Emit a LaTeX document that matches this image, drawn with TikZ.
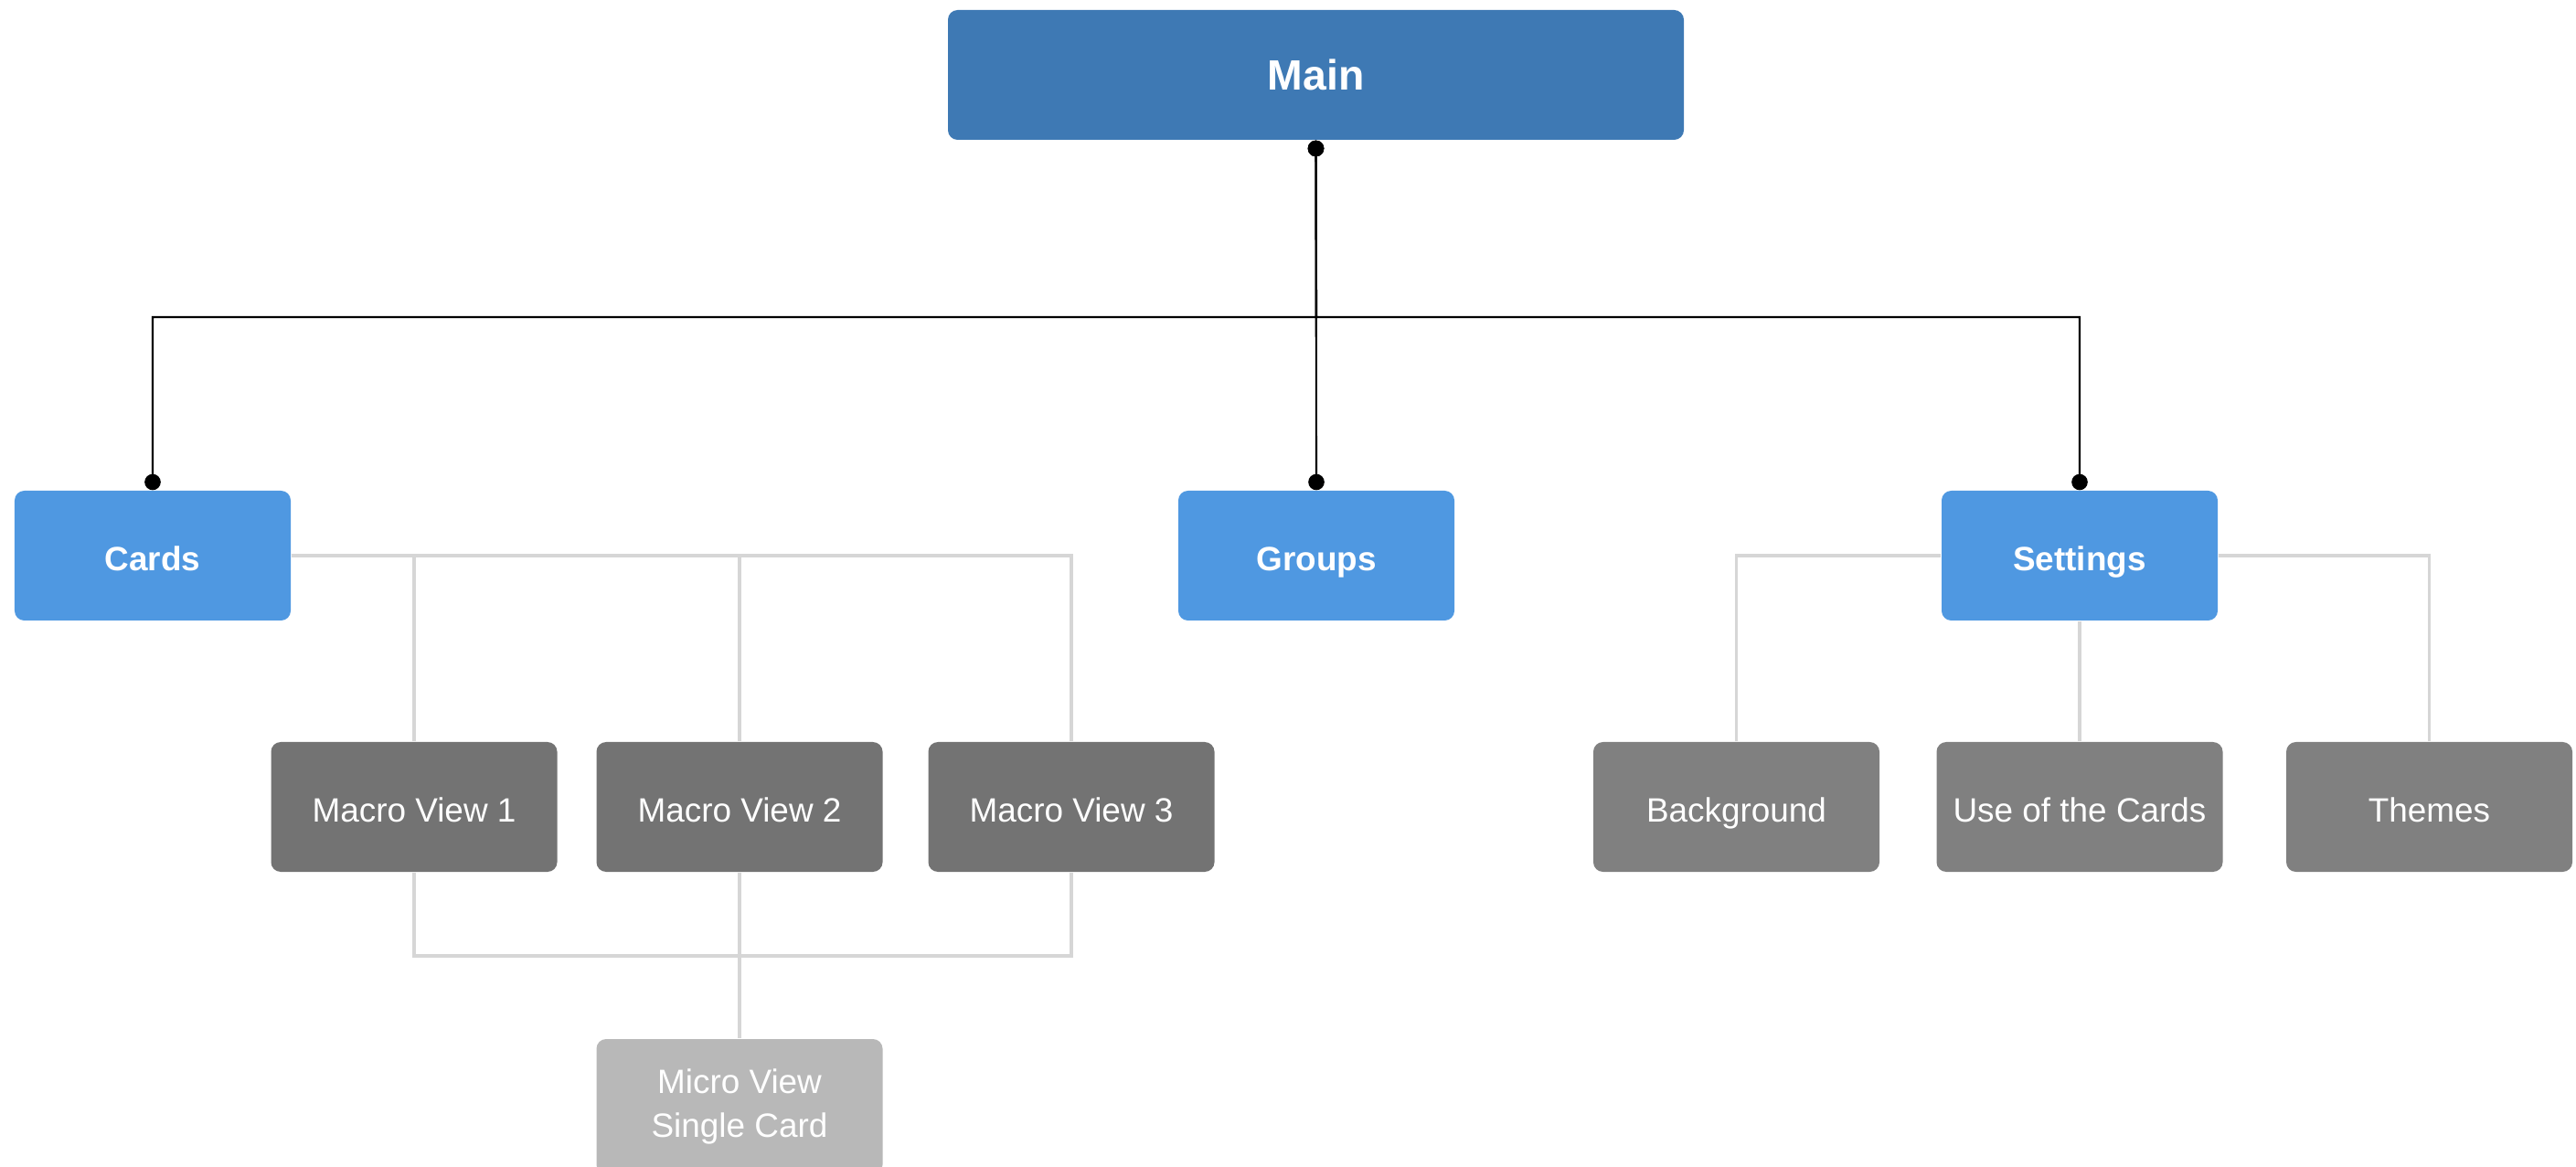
\documentclass[tikz,border=0pt]{standalone}
\usepackage{fontspec}
\setmainfont{Liberation Sans}
\usepackage{xcolor}
\usetikzlibrary{arrows.meta, positioning}
\tikzset{
    mybox/.style={rounded corners=3pt, text=white, align=center, inner sep=0pt, minimum height=1.42cm, font=\fontsize{10.5}{13.5}\selectfont},
    oneline/.style={text height=0.95em, text depth=0pt},
    mainbox/.style={mybox, oneline, fill=MainBlue, minimum width=8.05cm, font=\fontsize{13.2}{16}\selectfont\bfseries},
    topbox/.style={mybox, oneline, fill=Blue, minimum width=3.02cm, font=\fontsize{10.5}{13.5}\selectfont\bfseries},
    subbox/.style={mybox, oneline, fill=#1, minimum width=3.13cm},
    microbox/.style={mybox, fill=LightGray, minimum width=3.13cm, minimum height=1.48cm}
}
\definecolor{MainBlue}{HTML}{3E79B4}
\definecolor{Blue}{HTML}{4F98E1}
\definecolor{DarkGray}{HTML}{737373}
\definecolor{MidGray}{HTML}{808080}
\definecolor{LightGray}{HTML}{B8B8B8}
\definecolor{LineGray}{HTML}{D6D6D6}

\begin{document}
\begin{tikzpicture}
\tikzset{
    treeline/.style={line width=0.6pt, {Circle[length=5pt]}-{Circle[length=5pt]}},
    subline/.style={line width=0.9pt, LineGray}
}
  \useasboundingbox (0,0) rectangle (28.18,-12.77);

  % first level
  \node[mainbox] (main) at (14.395,-0.82) {Main};
  \node[topbox] (cards) at (1.67,-6.08) {Cards};
  \node[topbox] (groups) at (14.40,-6.08) {Groups};
  \node[topbox] (settings) at (22.75,-6.08) {Settings};
  \coordinate (bus) at (14.40,-3.47);

  % cards children
  \node[subbox=DarkGray] (mv1) at (4.53,-8.83) {Macro View 1};
  \node[subbox=DarkGray] (mv2) at (8.09,-8.83) {Macro View 2};
  \node[subbox=DarkGray] (mv3) at (11.72,-8.83) {Macro View 3};
  \node[microbox] (micro) at (8.09,-12.11) {Micro View\\Single Card};
  \coordinate (join) at (11.72,-10.46);

  % settings children
  \node[subbox=MidGray] (bg) at (18.995,-8.83) {Background};
  \node[subbox=MidGray] (use) at (22.75,-8.83) {Use of the Cards};
  \node[subbox=MidGray] (themes) at (26.575,-8.83) {Themes};

  \draw[treeline] (main.south) -- (bus) -| (cards.north);
  \draw[treeline] (main.south) -- (groups.north);
  \draw[treeline] (main.south) -- (bus) -| (settings.north);

  \draw[subline] (cards.east) -| (mv1.north);
  \draw[subline] (cards.east) -| (mv2.north);
  \draw[subline] (cards.east) -| (mv3.north);
  \draw[subline] (mv1.south) |- (join) -- (mv3.south);
  \draw[subline] (mv2.south) -- (micro.north);

  \draw[subline] (settings.west) -| (bg.north);
  \draw[subline] (settings.south) -- (use.north);
  \draw[subline] (settings.east) -| (themes.north);
\end{tikzpicture}
\end{document}
